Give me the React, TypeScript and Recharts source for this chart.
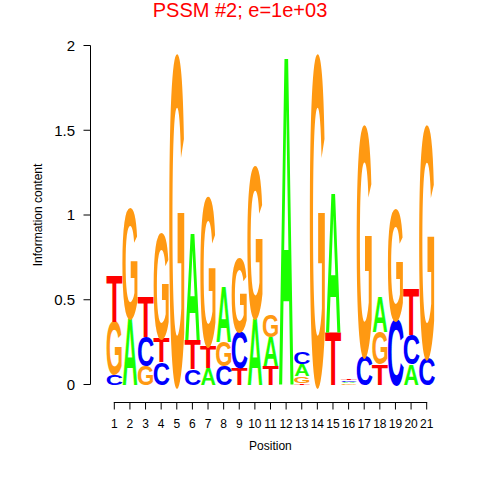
import React from 'react';
import { BarChart, Bar, XAxis, YAxis } from 'recharts';

// Sequence-logo data: information content (bits) of each base at each position
const positions = ['1', '2', '3', '4', '5', '6', '7', '8', '9', '10', '11', '12', '13', '14', '15', '16', '17', '18', '19', '20', '21'];
const infoA = [0, 0.39, 0, 0, 0, 0.625, 0.10, 0.32, 0, 0.39, 0.17, 1.92, 0.07, 0, 0.81, 0.008, 0, 0.20, 0, 0.12, 0];
const infoC = [0.06, 0, 0.17, 0.13, 0, 0.09, 0, 0.11, 0.21, 0, 0, 0, 0.07, 0, 0, 0.008, 0.17, 0, 0.38, 0.17, 0.16];
const infoG = [0.31, 0.64, 0.11, 0.61, 1.92, 0, 0.87, 0.14, 0.43, 0.88, 0.13, 0, 0.04, 1.92, 0, 0.008, 1.34, 0.19, 0.65, 0, 1.35];
const infoT = [0.27, 0, 0.23, 0.14, 0, 0.17, 0.13, 0, 0.10, 0, 0.11, 0, 0.01, 0, 0.31, 0.008, 0, 0.12, 0, 0.27, 0];
// stacking order, bottom to top
const stackOrder = ['CGT', 'AG', 'GCT', 'CTG', 'G', 'CTA', 'ATG', 'CGA', 'TCG', 'AG', 'TAG', 'A', 'TGAC', 'G', 'TA', 'GACT', 'CG', 'TGA', 'CG', 'ACT', 'CG'];
const yTicks = [0, 0.5, 1, 1.5, 2];
const title = 'PSSM #2; e=1e+03';
const xLabel = 'Position';
const yLabel = 'Information content';

const FONT = "'Liberation Sans', Arial, Helvetica, sans-serif";
const letterColors: Record<string, string> = { A: '#1AFF00', C: '#0000FF', G: '#FF9912', T: '#FF0000' };
const inkFactor: Record<string, number> = { A: 0.97, C: 1.08, G: 1.08, T: 1.02 };
const heightsByLetter: Record<string, number[]> = { A: infoA, C: infoC, G: infoG, T: infoT };

const rows = positions.map((pos, i) => {
  const row: Record<string, any> = { pos };
  const order = stackOrder[i];
  for (let k = 0; k < 4; k++) {
    const letter = order[k];
    row['l' + k] = letter || '';
    row['h' + k] = letter ? heightsByLetter[letter][i] : 0;
  }
  return row;
});

const CHART_W = 480;
const CHART_H = 480;
const MARGIN = { top: 45.5, right: 29.7, bottom: 25.5, left: 0 };
const Y_AXIS_W = 90.5;
const X_AXIS_H = 70;
const PAD = { left: 16, right: 15.8 };
const STEP = (CHART_W - MARGIN.right - Y_AXIS_W - PAD.left - PAD.right) / positions.length;
const CAP = 68.8; // cap height of the bold glyphs at font-size 100

function Glyph(props: any) {
  const { x, y, width, height, layer } = props;
  const payload = props.payload || props;
  const letter = payload['l' + layer];
  if (!letter || !(height > 0)) return null;
  const cx = x + width / 2;
  const sy = height / CAP;
  return (
    <text
      transform={`translate(${cx},${y + height}) scale(1,${sy})`}
      x={0}
      y={0}
      fontSize={100}
      fontFamily={FONT}
      fontWeight="bold"
      fill={letterColors[letter]}
      textAnchor="middle"
      textLength={width * inkFactor[letter]}
      lengthAdjust="spacingAndGlyphs"
    >
      {letter}
    </text>
  );
}

function PosTick(props: any) {
  const { x, y, payload, index } = props;
  const last = index === positions.length - 1;
  const ly = y + 18;
  return (
    <g>
      <line x1={x} y1={ly} x2={x} y2={ly + 7} stroke="#000" strokeWidth={1} />
      {!last && <line x1={x - 0.5} y1={ly} x2={x + STEP + 0.5} y2={ly} stroke="#000" strokeWidth={1} />}
      <text x={x} y={y + 43} textAnchor="middle" fontSize={12} fontFamily={FONT} fill="#000">
        {payload.value}
      </text>
    </g>
  );
}

export default function App() {
  return (
    <div style={{ position: 'absolute', left: 0, top: 0, width: CHART_W, height: CHART_H, background: '#fff', fontFamily: FONT }}>
      <BarChart width={CHART_W} height={CHART_H} data={rows} margin={MARGIN} barCategoryGap={0} barGap={0}>
        <XAxis
          dataKey="pos"
          type="category"
          interval={0}
          padding={PAD}
          axisLine={false}
          tickLine={false}
          tickSize={0}
          tickMargin={0}
          height={X_AXIS_H}
          tick={<PosTick />}
          label={{ value: xLabel, position: 'insideBottom', offset: 4.5, fill: '#000', fontSize: 12, fontFamily: FONT }}
        />
        <YAxis
          type="number"
          domain={[0, 2]}
          ticks={yTicks}
          width={Y_AXIS_W}
          axisLine={{ stroke: '#000' }}
          tickLine={{ stroke: '#000' }}
          tickSize={7}
          tickMargin={8.5}
          tick={{ fill: '#000', fontSize: 15, fontFamily: FONT }}
          label={{ value: yLabel, angle: -90, position: 'insideLeft', offset: 38, style: { textAnchor: 'middle' }, fill: '#000', fontSize: 12, fontFamily: FONT }}
        />
        {[0, 1, 2, 3].map((k) => (
          <Bar key={k} dataKey={'h' + k} stackId="logo" isAnimationActive={false} shape={(p: any) => <Glyph {...p} layer={k} />} />
        ))}
      </BarChart>
      <svg width={CHART_W} height={30} style={{ position: 'absolute', left: 0, top: 0 }}>
        <text x={240} y={17} textAnchor="middle" fill="#FF0000" fontSize={20} fontFamily={FONT}>
          {title}
        </text>
      </svg>
    </div>
  );
}
